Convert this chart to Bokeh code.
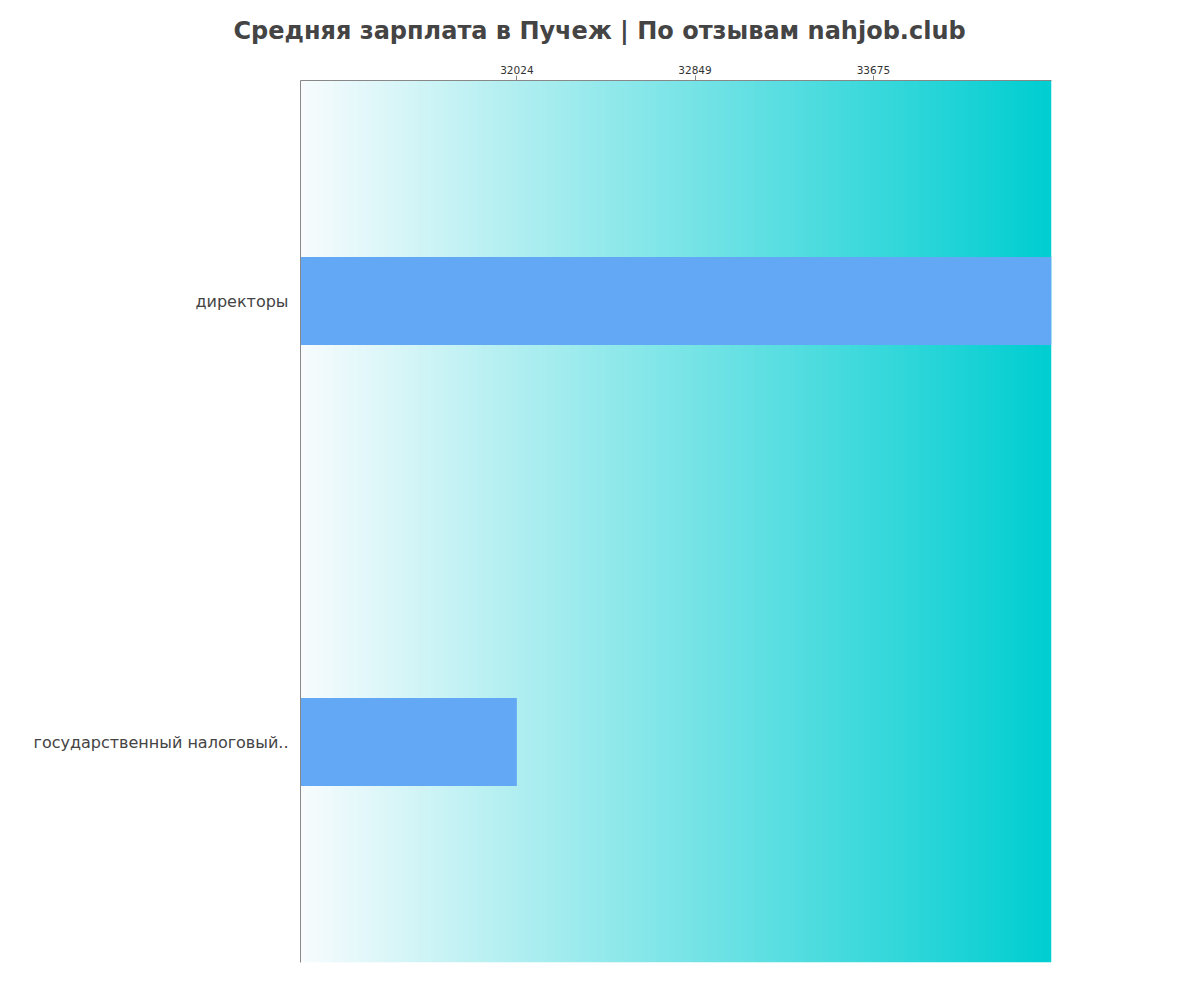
import numpy as np
from bokeh.plotting import figure
from bokeh.models import FixedTicker, Range1d
from bokeh.embed import file_html
from bokeh.resources import INLINE

title_text = "Средняя зарплата в Пучеж | По отзывам nahjob.club"
categories = ["директоры", "государственный налоговый.."]
values = [34500, 32024]
x_min = 31022
x_max = 34500
tick_values = [32024, 32849, 33675]

# y positions: first category at top
n = len(categories)
y_pos = [n - 0.5 - i for i in range(n)]

p = figure(width=1184, height=984, output_backend="svg", toolbar_location=None,
           x_range=Range1d(x_min, x_max), y_range=Range1d(0, n),
           x_axis_location="above", min_border_left=300, min_border_right=133,
           min_border_top=80, min_border_bottom=22)

# gradient background
cols = 400
t = np.linspace(0, 1, cols)
c0 = np.array([248, 252, 254])
c1 = np.array([0, 206, 209])
rgb = (c0[None, :] * (1 - t[:, None]) + c1[None, :] * t[:, None]).astype(np.uint32)
img = np.empty((1, cols), dtype=np.uint32)
view = img.view(dtype=np.uint8).reshape((1, cols, 4))
view[0, :, 0] = rgb[:, 0]
view[0, :, 1] = rgb[:, 1]
view[0, :, 2] = rgb[:, 2]
view[0, :, 3] = 255
p.image_rgba(image=[img], x=x_min, y=0, dw=x_max - x_min, dh=n)

p.hbar(y=y_pos, left=x_min, right=values, height=0.2, color="#62A8F4", line_color=None)

p.title.text = title_text
p.title.align = "left"
p.title.offset = -67
p.title.standoff = 31
p.title.vertical_align = "top"
p.title.text_font = "DejaVu Sans"
p.title.text_font_size = "24px"
p.title.text_font_style = "bold"
p.title.text_color = "#444444"

p.outline_line_color = None
p.xgrid.visible = False
p.ygrid.visible = False

xa = p.xaxis[0]
xa.ticker = FixedTicker(ticks=tick_values)
xa.minor_tick_line_color = None
xa.major_tick_out = 5
xa.major_tick_in = 0
xa.axis_line_color = "#888888"
xa.major_tick_line_color = "#888888"
xa.major_label_text_font = "DejaVu Sans"
xa.major_label_text_font_size = "10.5px"
xa.major_label_text_color = "#333333"
xa.major_label_standoff = 2

ya = p.yaxis[0]
ya.ticker = FixedTicker(ticks=y_pos)
ya.major_label_overrides = {y: c for y, c in zip(y_pos, categories)}
ya.minor_tick_line_color = None
ya.major_tick_line_color = None
ya.major_tick_out = 0
ya.major_tick_in = 0
ya.axis_line_color = "#888888"
ya.major_label_text_font = "DejaVu Sans"
ya.major_label_text_font_size = "16px"
ya.major_label_text_color = "#444444"
ya.major_label_standoff = 12

open("out.html", "w").write(file_html(p, INLINE))
